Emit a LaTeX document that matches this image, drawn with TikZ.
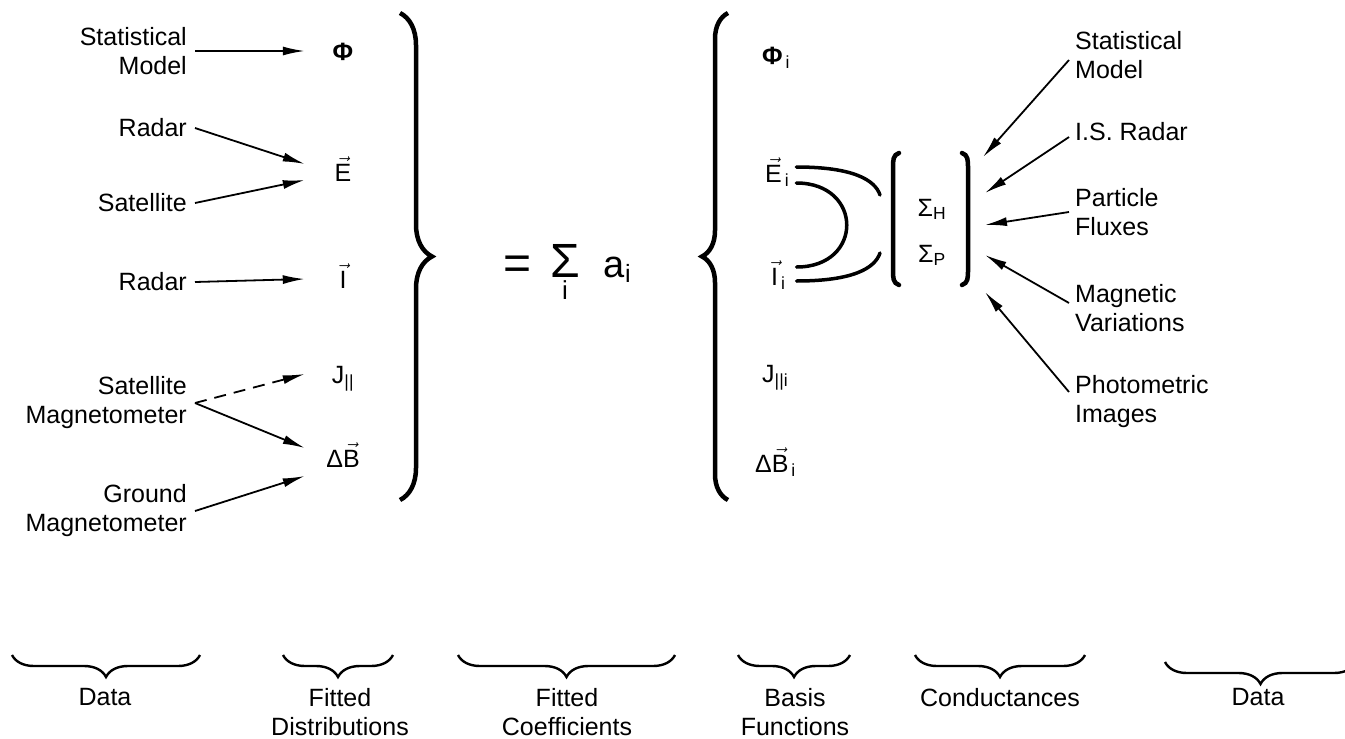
\documentclass[tikz,border=0pt]{standalone}
\usepackage{fix-cm}
\usepackage{amsmath}
\usepackage{fontspec}
\setmainfont{Liberation Sans}
\usetikzlibrary{arrows.meta, decorations.pathreplacing}

\begin{document}
\begin{tikzpicture}[
  x=1pt, y=-1pt,
  font=\fontsize{25}{29}\selectfont,
  lbl/.style={inner xsep=8pt, inner ysep=0pt, align=right, anchor=east},
  rlbl/.style={inner xsep=6pt, inner ysep=0pt, align=left, anchor=west},
  qty/.style={inner sep=0pt, minimum width=76pt, text height=18pt, text depth=0pt},
  basis/.style={inner sep=0pt, anchor=west, text height=18pt, text depth=0pt},
  cond/.style={inner sep=0pt, text height=18pt, text depth=0pt},
  caption/.style={inner sep=0pt, align=center, anchor=north},
  feed/.style={line width=1.8pt, -{Latex[length=22pt,width=9pt]}},
  link/.style={line width=3.5pt, line cap=round},
  brk/.style={line width=4.5pt, line cap=round},
  bigbrace/.style={line width=4.5pt, decorate, decoration={brace, amplitude=#1}},
  capbrace/.style={line width=2.4pt, decorate, decoration={brace, amplitude=22pt}},
]
  \useasboundingbox (0,0) rectangle (1345,739);

  % data feeding the fitted distributions
  \node[lbl] (sm)   at (195,51)  {Statistical\\Model};
  \node[lbl] (rad1) at (195,128) {Radar};
  \node[lbl] (sat1) at (195,203) {Satellite};
  \node[lbl] (rad2) at (195,282) {Radar};
  \node[lbl] (smag) at (195,403) {Satellite\\Magnetometer};
  \node[lbl] (gmag) at (195,511) {Ground\\Magnetometer};

  \node[qty] (phi) at (343,51)  {\textbf{Φ}};
  \node[qty] (E)   at (343,172) {$\vec{\text{E}}$};
  \node[qty] (I)   at (343,279) {$\vec{\text{I}}$};
  \node[qty] (J)   at (343,374) {$\text{J}_{\text{||}}$};
  \node[qty] (dB)  at (343,458) {$\text{Δ}\vec{\text{B}}$};

  \draw[feed] (sm.east) -- (phi.west);
  \draw[feed] (rad1.east) -- ([yshift=8pt]E.west);
  \draw[feed] (sat1.east) -- ([yshift=-8pt]E.west);
  \draw[feed] (rad2.east) -- (I.west);
  \draw[feed, dash pattern=on 12pt off 8pt] (smag.east) -- (J.west);
  \draw[feed] (smag.east) -- ([yshift=10pt]dB.west);
  \draw[feed] (gmag.east) -- ([yshift=-18pt]dB.west);

  \draw[bigbrace=32pt] (400,13) -- (400,500);

  \node[anchor=base west, inner sep=0pt, font=\fontsize{38}{40}\selectfont] (sum) at (503,277)
    {{\fontsize{48}{48}\selectfont\raisebox{-2pt}{=}}\hspace{19pt}$\mathop{\hbox{\fontsize{48}{48}\selectfont Σ}}\limits_{\hbox{\fontsize{26}{26}\selectfont i}}$\hspace{24pt}a$_{\hbox{\fontsize{25}{25}\selectfont i}}$};

  \draw[bigbrace=26pt] (728,500) -- (728,13);

  % basis functions
  \node[basis] (phii) at (762,55)  {$\textbf{Φ}_{\,\text{i}}$};
  \node[basis] (Ei)   at (765,173) {$\vec{\text{E}}_{\,\text{i}}$};
  \node[basis] (Ii)   at (771,276) {$\vec{\text{I}}_{\,\text{i}}$};
  \node[basis] (Ji)   at (762,373) {$\text{J}_{\text{||i}}$};
  \node[basis] (dBi)  at (755,463) {$\text{Δ}\vec{\text{B}}_{\,\text{i}}$};

  % conductances
  \node[cond] (sh) at (932,207) {$\text{Σ}_{\text{H}}$};
  \node[cond] (sp) at (932,253) {$\text{Σ}_{\text{P}}$};
  \draw[brk] (899,153) .. controls (893,155) and (893,160) .. (893,168) -- (893,270)
    .. controls (893,278) and (893,283) .. (899,285);
  \draw[brk] (962,153) .. controls (968,155) and (968,160) .. (968,168) -- (968,270)
    .. controls (968,278) and (968,283) .. (962,285);

  \coordinate (c1) at (880,195);
  \coordinate (c2) at (880,253);
  \draw[link] ([xshift=7pt,yshift=6pt]Ei.east) .. controls +(57,0) and +(-5,-15) .. (c1);
  \draw[link] ([xshift=7pt,yshift=-10pt]Ei.east) .. controls +(67,0) and +(67,0) .. ([xshift=11pt,yshift=9pt]Ii.east);
  \draw[link] ([xshift=11pt,yshift=-5pt]Ii.east) .. controls +(57,0) and +(-5,15) .. (c2);

  % data feeding the conductances
  \node[rlbl] (sm2) at (1069,55)  {Statistical\\Model};
  \node[rlbl] (isr) at (1069,132) {I.S. Radar};
  \node[rlbl] (pf)  at (1069,212) {Particle\\Fluxes};
  \node[rlbl] (mv)  at (1069,308) {Magnetic\\Variations};
  \node[rlbl] (pim) at (1069,402) {Photometric\\Images};

  \coordinate (t1) at (983,157);
  \coordinate (t2) at (985,193);
  \coordinate (t3) at (985,225);
  \coordinate (t4) at (985,255);
  \coordinate (t5) at (985,292);
  \draw[feed] ([yshift=-5pt]sm2.west) -- (t1);
  \draw[feed] ([yshift=-5pt]isr.west) -- (t2);
  \draw[feed] (pf.west) -- (t3);
  \draw[feed] ([yshift=5pt]mv.west) -- (t4);
  \draw[feed] ([yshift=10pt]pim.west) -- (t5);

  % column captions
  \draw[capbrace] (200,655) -- (12,655);
  \draw[capbrace] (393,655) -- (283,655);
  \draw[capbrace] (675,655) -- (458,655);
  \draw[capbrace] (850,655) -- (738,655);
  \draw[capbrace] (1085,655) -- (915,655);
  \draw[capbrace] (1356,662) -- (1165,662);

  \node[caption] (d1) at (105,688)  {Data};
  \node[caption] (fd) at (340,688)  {Fitted\\Distributions};
  \node[caption] (fc) at (567,688)  {Fitted\\Coefficients};
  \node[caption] (bf) at (795,688)  {Basis\\Functions};
  \node[caption] (cd) at (1000,688) {Conductances};
  \node[caption] (d2) at (1258,688) {Data};
\end{tikzpicture}
\end{document}
